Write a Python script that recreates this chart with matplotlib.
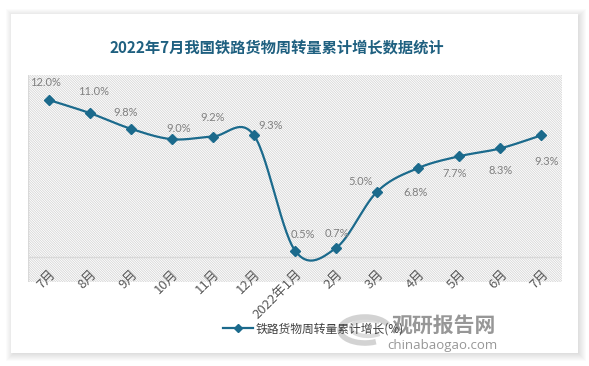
import numpy as np
import matplotlib
matplotlib.use("Agg")
import matplotlib.pyplot as plt
from matplotlib.patches import Rectangle, Arc
from matplotlib.lines import Line2D

plt.rcParams['font.family'] = ['Noto Sans CJK SC', 'DejaVu Sans']
plt.rcParams['hatch.linewidth'] = 0.5
plt.rcParams['hatch.color'] = '#d0d0d0'

# data
months = ['7月', '8月', '9月', '10月', '11月', '12月', '2022年1月',
          '2月', '3月', '4月', '5月', '6月', '7月']
growth = [12.0, 11.0, 9.8, 9.0, 9.2, 9.3, 0.5, 0.7, 5.0, 6.8, 7.7, 8.3, 9.3]
series_name = '铁路货物周转量累计增长(%)'
title = '2022年7月我国铁路货物周转量累计增长数据统计'

# label offsets in pixels (dx, dy up)
lab_off = [(-3, 17), (4, 21), (-5, 16), (7, 11), (0, 19), (17, 10), (8, 16),
           (1, 14), (-17, 10), (-3, -24), (-5, -17), (0, -22), (5, -26)]

W, H = 589, 366
line_c = '#1b6a8c'

fig = plt.figure(figsize=(W / 100, H / 100), dpi=100)
fig.patch.set_facecolor('white')

# card with soft shadow
for k in range(8, 0, -1):
    fig.add_artist(Rectangle(((11 - k + 3) / W, 1 - (353 + k) / H),
                             (567 + 2 * k - 3) / W, (339 + 2 * k - 3) / H,
                             transform=fig.transFigure, facecolor='black',
                             alpha=0.015, lw=0, zorder=0))
fig.add_artist(Rectangle((11 / W, 1 - 353 / H), 567 / W, 339 / H,
                         transform=fig.transFigure, facecolor='white', lw=0, zorder=0.5))

ax = fig.add_axes([28 / W, 1 - 282 / H, 534 / W, 207 / H])
ax.set_zorder(2)
ax.set_facecolor('none')
ax.add_patch(Rectangle((0, 0), 1, 1, transform=ax.transAxes, facecolor='white',
                       hatch='\\' * 14, edgecolor='#d0d0d0', lw=0, zorder=0))
ax.set_xlim(-0.5, len(months) - 0.5)
ax.set_ylim(-1.9, 13.9)
for s in ax.spines.values():
    s.set_visible(False)
ax.set_xticks([])
ax.set_yticks([])
ax.axhline(0, color='#d9d9d9', lw=1, zorder=1)
ax.axvline(-0.5, color='#d9d9d9', lw=1, zorder=1)

# smooth curve (Bezier through points, Excel style)
x = np.arange(len(growth), dtype=float)
y = np.array(growth)
px = np.concatenate([[x[0]], x, [x[-1]]])
py = np.concatenate([[y[0]], y, [y[-1]]])
cx, cy = [], []
t = np.linspace(0, 1, 30)
for i in range(len(x) - 1):
    p0 = np.array([x[i], y[i]])
    p3 = np.array([x[i + 1], y[i + 1]])
    p1 = p0 + (np.array([px[i + 2], py[i + 2]]) - np.array([px[i], py[i]])) / 6
    p2 = p3 - (np.array([px[i + 3], py[i + 3]]) - np.array([px[i + 1], py[i + 1]])) / 6
    b = ((1 - t) ** 3)[:, None] * p0 + (3 * (1 - t) ** 2 * t)[:, None] * p1 \
        + (3 * (1 - t) * t ** 2)[:, None] * p2 + (t ** 3)[:, None] * p3
    cx.extend(b[:, 0])
    cy.extend(b[:, 1])
ax.plot(cx, cy, color=line_c, lw=1.6, zorder=3, solid_capstyle='round')
ax.plot(x, y, ls='none', marker='D', ms=5, color=line_c, zorder=4)

for i, v in enumerate(growth):
    dx, dy = lab_off[i]
    ax.annotate(f'{v:.1f}%', (i, v), xytext=(dx * 0.72, dy * 0.72),
                textcoords='offset points', ha='center', va='center',
                fontsize=8, color='#808080', family=['Lato', 'DejaVu Sans'], zorder=5)

for i, m in enumerate(months):
    ax.text(i + 0.12, -1.15, m, rotation=45, rotation_mode='anchor',
            ha='right', va='center', fontsize=9.5, color='#595959', clip_on=False)

fig.text(277 / W, 1 - 48 / H, title, ha='center', va='center', fontsize=11,
         fontweight='bold', color='#1f6080')

# legend
fig.legend(handles=[Line2D([], [], color=line_c, lw=1.6, marker='D', ms=4)],
           labels=[series_name], loc='center left',
           bbox_to_anchor=(212 / W, 1 - 329 / H), frameon=False,
           handlelength=2.6, handletextpad=0.2, fontsize=8.5, labelcolor='#404040')

# watermark
fig.add_artist(Arc((365 / W, 1 - 330 / H), 50 / W, 26 / H, theta1=20, theta2=300,
                   transform=fig.transFigure, color='#c8c8c8', lw=4, alpha=0.8))
fig.add_artist(Arc((368 / W, 1 - 328 / H), 34 / W, 16 / H, theta1=40, theta2=320,
                   transform=fig.transFigure, color='#d4d4d4', lw=3, alpha=0.8))
fig.text(444 / W, 1 - 325 / H, '观研报告网', ha='center', va='center', fontsize=15,
         fontweight='bold', color='#8c8c8c', alpha=0.9)
fig.text(442 / W, 1 - 346 / H, 'chinabaogao.com', ha='center', va='center',
         fontsize=9.5, color='#8c8c8c', alpha=0.9, family=['Open Sans', 'DejaVu Sans'])

fig.savefig('out.png', dpi=100)
